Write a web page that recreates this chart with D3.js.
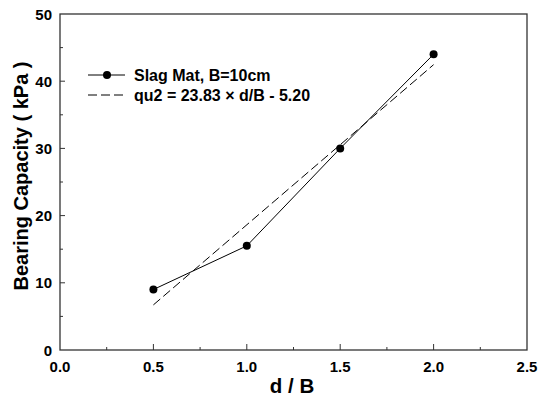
<!DOCTYPE html>
<html>
<head>
<meta charset="utf-8">
<script src="https://cdn.jsdelivr.net/npm/d3@7"></script>
<style>
  body { margin: 0; background: #fff; }
  text { font-family: "Liberation Sans", Arial, sans-serif; font-weight: bold; }
</style>
</head>
<body>
<script>
// data
const ratio = [0.5, 1.0, 1.5, 2.0];
const capacity = [9.0, 15.5, 30.0, 44.0];
const fitSlope = 23.83, fitIntercept = -5.20;
const xTicks = [0, 0.5, 1.0, 1.5, 2.0, 2.5];
const yTicks = [0, 10, 20, 30, 40, 50];

const width = 543, height = 399;
const margin = {top: 14, right: 16, bottom: 49, left: 60};

const svg = d3.select("body").append("svg")
    .attr("width", width).attr("height", height);

const x = d3.scaleLinear().domain([0, 2.5]).range([margin.left, width - margin.right]);
const y = d3.scaleLinear().domain([0, 50]).range([height - margin.bottom, margin.top]);

// frame
svg.append("rect")
    .attr("x", x(0)).attr("y", y(50))
    .attr("width", x(2.5) - x(0)).attr("height", y(0) - y(50))
    .attr("fill", "none").attr("stroke", "#333").attr("stroke-width", 1.3);

// x axis ticks (inside)
const xMinor = d3.range(0.25, 2.5, 0.5);
svg.selectAll(".xt").data(xTicks.slice(1, -1)).enter().append("line")
    .attr("x1", d => x(d)).attr("x2", d => x(d))
    .attr("y1", y(0)).attr("y2", y(0) - 6)
    .attr("stroke", "#333");
svg.selectAll(".xm").data(xMinor).enter().append("line")
    .attr("x1", d => x(d)).attr("x2", d => x(d))
    .attr("y1", y(0)).attr("y2", y(0) - 3)
    .attr("stroke", "#333");
svg.selectAll(".xl").data(xTicks).enter().append("text")
    .attr("x", d => x(d)).attr("y", y(0) + 22)
    .attr("text-anchor", "middle").attr("font-size", 15)
    .text(d => d.toFixed(1));

// y axis ticks (inside)
const yMinor = d3.range(5, 50, 10);
svg.selectAll(".yt").data(yTicks.slice(1, -1)).enter().append("line")
    .attr("x1", x(0)).attr("x2", x(0) + 5)
    .attr("y1", d => y(d)).attr("y2", d => y(d))
    .attr("stroke", "#333");
svg.selectAll(".ym").data(yMinor).enter().append("line")
    .attr("x1", x(0)).attr("x2", x(0) + 3)
    .attr("y1", d => y(d)).attr("y2", d => y(d))
    .attr("stroke", "#333");
svg.selectAll(".yl").data(yTicks).enter().append("text")
    .attr("x", x(0) - 8).attr("y", d => y(d) + 5.5)
    .attr("text-anchor", "end").attr("font-size", 15)
    .text(d => d);

// axis titles
svg.append("text")
    .attr("x", 292).attr("y", 393)
    .attr("text-anchor", "middle").attr("font-size", 20.5)
    .text("d / B");
svg.append("text")
    .attr("transform", "translate(28,176) rotate(-90)")
    .attr("text-anchor", "middle").attr("font-size", 20)
    .text("Bearing Capacity ( kPa )");

// fit line
svg.append("line")
    .attr("x1", x(0.5)).attr("y1", y(fitSlope * 0.5 + fitIntercept))
    .attr("x2", x(2.0)).attr("y2", y(fitSlope * 2.0 + fitIntercept))
    .attr("stroke", "#000").attr("stroke-width", 1)
    .attr("stroke-dasharray", "9,4");

// data line and points
const pts = ratio.map((r, i) => [r, capacity[i]]);
svg.append("path")
    .attr("d", d3.line().x(d => x(d[0])).y(d => y(d[1]))(pts))
    .attr("fill", "none").attr("stroke", "#000").attr("stroke-width", 1);
svg.selectAll(".pt").data(pts).enter().append("circle")
    .attr("cx", d => x(d[0])).attr("cy", d => y(d[1]))
    .attr("r", 4).attr("fill", "#000");

// legend
const lg = svg.append("g");
lg.append("line").attr("x1", 88).attr("x2", 125).attr("y1", 75).attr("y2", 75)
    .attr("stroke", "#000");
lg.append("circle").attr("cx", 107).attr("cy", 75).attr("r", 4).attr("fill", "#000");
lg.append("text").attr("x", 134).attr("y", 80.5).attr("font-size", 16)
    .text("Slag Mat, B=10cm");
lg.append("line").attr("x1", 88).attr("x2", 125).attr("y1", 95).attr("y2", 95)
    .attr("stroke", "#000").attr("stroke-dasharray", "9,4");
lg.append("text").attr("x", 134).attr("y", 100.5).attr("font-size", 16)
    .text("qu2 = 23.83 × d/B - 5.20");
</script>
</body>
</html>
